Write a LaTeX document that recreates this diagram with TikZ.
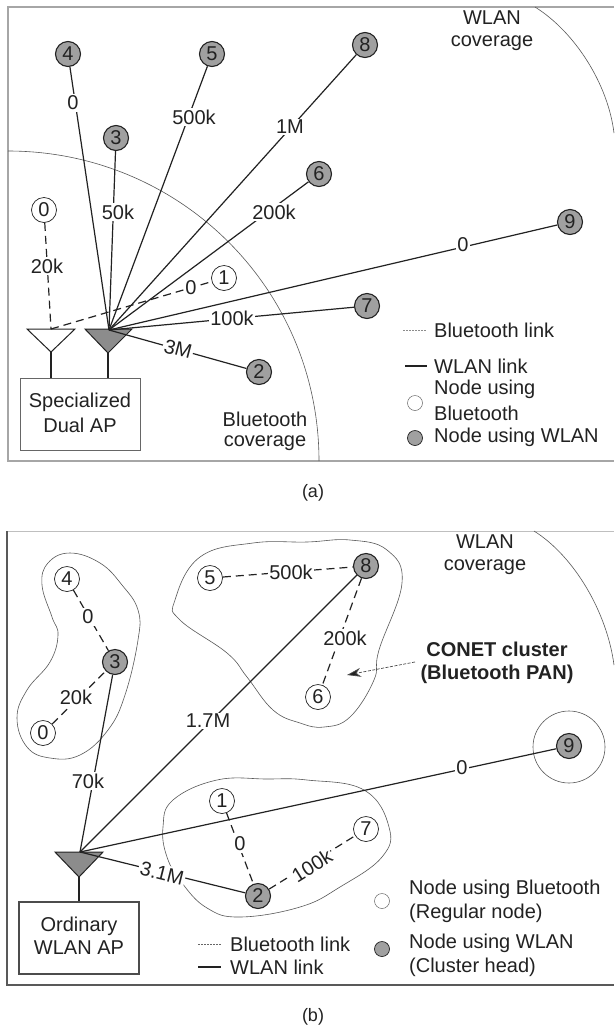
\documentclass[tikz,border=0pt]{standalone}
\usepackage{fontspec}
\setmainfont{Liberation Sans}
\usetikzlibrary{arrows.meta}
\definecolor{ink}{HTML}{222222}
\definecolor{nodegray}{HTML}{A0A0A0}
\definecolor{trigray}{HTML}{8C8C8C}
\tikzset{
  base/.style={font=\fontsize{20}{24}\selectfont,text=ink},
  wnode/.style={circle,draw=ink,line width=.7pt,fill=white,minimum size=25pt,inner sep=0pt,font=\fontsize{20}{22}\selectfont,text=ink},
  gnode/.style={wnode,fill=nodegray,line width=1.1pt},
  wlan/.style={draw=ink,line width=1.2pt},
  blue/.style={draw=ink,line width=1.2pt,dash pattern=on 8pt off 5pt},
  lbl/.style={base,fill=white,inner sep=1.5pt},
  txt/.style={base,inner sep=0pt},
  ltxt/.style={base,inner sep=0pt,anchor=west},
  cover/.style={draw=black!65,line width=.6pt},
  legdash/.style={draw=black!45,line width=.6pt,dash pattern=on 2pt off 1pt},
  legw/.style={wnode,minimum size=15pt,draw=black!60,line width=.5pt},
  legg/.style={wnode,minimum size=15pt,fill=nodegray,line width=.7pt},
  apbox/.style={base,rectangle,draw=black!60,line width=1pt,fill=white,align=center,minimum width=120pt,minimum height=72pt,inner sep=0pt}
}
\begin{document}
\begin{tikzpicture}[x=1pt,y=-1pt]
\useasboundingbox (0,0) rectangle (614,1029);
\fill[white] (0,0) rectangle (614,1029);

% ---------- panel (a)
\draw[draw=black!35,line width=1.2pt] (614,7) -- (8,7) -- (8,461) -- (614,461);
\draw[cover] (8,151) .. controls (180,151) and (319,289) .. (319,461);
\draw[cover] (535,7) .. controls (575,32) and (608,84) .. (614,133);

\coordinate (hubA) at (109,330);
\coordinate (whA) at (51,329);
\coordinate (wApex) at (51,352);
\coordinate (gApex) at (108,353);
\node[apbox] (boxA) at (80,414) {};
\node[txt] (specA) at (80,402) {Specialized};
\node[txt] (dualA) at (80,425) {Dual AP};
\draw[ink,line width=1pt] (27,329) -- (75,329) -- (wApex) -- cycle;
\draw[ink,line width=1pt,fill=trigray] (85,329) -- (132,329) -- (gApex) -- cycle;
\draw[wlan] (wApex) -- (wApex |- boxA.north);
\draw[wlan] (gApex) -- (gApex |- boxA.north);

\node[gnode] (a4) at (68,54) {4};
\node[gnode] (a5) at (212,54) {5};
\node[gnode] (a3) at (116,138) {3};
\node[gnode] (a8) at (365,45) {8};
\node[gnode] (a6) at (319,174) {6};
\node[gnode] (a9) at (570,222) {9};
\node[gnode] (a7) at (367,306) {7};
\node[gnode] (a2) at (259,372) {2};
\node[wnode] (a1) at (224,278) {1};
\node[wnode] (a0) at (44,210) {0};

\draw[blue] (a0) -- (whA);
\draw[blue] (whA) -- (a1);
\foreach \n in {4,5,3,8,6,9,7,2} \draw[wlan] (hubA) -- (a\n);

\node[lbl] (la4) at (73,103) {0};
\node[lbl] (la5) at (194,117) {500k};
\node[lbl] (la3) at (118,212) {50k};
\node[lbl] (la8) at (290,127) {1M};
\node[lbl] (la6) at (274,212) {200k};
\node[lbl] (la0) at (47,266) {20k};
\node[lbl] (la1) at (191,288) {0};
\node[lbl] (la7) at (232,318) {100k};
\node[lbl,rotate=-15] (la2) at (178,349) {3M};
\node[lbl] (la9) at (463,245) {0};

\node[txt] (btA1) at (265,419) {Bluetooth};
\node[txt] (btA2) at (265,443) {coverage};
\node[txt] (wcA1) at (492,18) {WLAN};
\node[txt] (wcA2) at (492,43) {coverage};

\coordinate (ldA1) at (403,330); \coordinate (ldA2) at (426,330);
\coordinate (lwA1) at (405,366); \coordinate (lwA2) at (427,366);
\draw[legdash] (ldA1) -- (ldA2);
\draw[wlan] (lwA1) -- (lwA2);
\node[ltxt] (tA1) at (434,330) {Bluetooth link};
\node[ltxt] (tA2) at (434,366) {WLAN link};
\node[ltxt] (tA3) at (434,389) {Node using};
\node[ltxt] (tA4) at (434,413) {Bluetooth};
\node[ltxt] (tA5) at (434,437) {Node using WLAN};
\node[legw] (lgA1) at (415,403) {};
\node[legg] (lgA2) at (415,438) {};
\node[txt,font=\fontsize{18}{20}\selectfont] (capA) at (313,493) {(a)};

% ---------- panel (b)
\draw[draw=black!25,line width=1pt] (7,531) -- (614,531);
\draw[draw=black!65,line width=1.2pt] (7,531) -- (7,985) -- (614,985);
\draw[cover] (534,531) .. controls (574,556) and (607,612) .. (614,665);

\draw[cover] plot[smooth cycle,tension=.7] coordinates {(70,553) (48,563) (42,585) (52,617) (58,635) (50,662) (27,690) (17,718) (27,747) (50,758) (80,755) (108,730) (125,695) (138,640) (138,610) (122,585) (100,563)};
\draw[cover] plot[smooth cycle,tension=.7] coordinates {(175,600) (200,557) (253,543) (307,542) (350,540) (387,550) (402,583) (379,650) (374,680) (350,717) (324,727) (300,723) (273,710) (247,677) (227,653) (180,620)};
\draw[cover] plot[smooth cycle,tension=.7] coordinates {(163,827) (173,800) (217,780) (267,779) (307,780) (364,790) (389,827) (382,857) (340,887) (300,907) (240,917) (207,908) (182,883) (167,857)};
\node[circle,cover,minimum size=72pt,inner sep=0pt] (ring9) at (569,747) {};

\coordinate (hubB) at (80,852);
\coordinate (gApexB) at (79,877);
\node[apbox,draw=black!70,line width=1.3pt] (boxB) at (79,938) {};
\node[txt] (ordB) at (79,926) {Ordinary};
\node[txt] (wlanB) at (79,948) {WLAN AP};
\draw[ink,line width=1pt,fill=trigray] (55,852) -- (103,852) -- (gApexB) -- cycle;
\draw[wlan] (gApexB) -- (gApexB |- boxB.north);

\node[wnode] (b4) at (67,579) {4};
\node[gnode] (b3) at (115,662) {3};
\node[wnode] (b0) at (43,733) {0};
\node[wnode] (b5) at (210,578) {5};
\node[gnode] (b8) at (366,566) {8};
\node[wnode] (b6) at (318,697) {6};
\node[gnode] (b9) at (569,746) {9};
\node[wnode] (b1) at (222,801) {1};
\node[gnode] (b2) at (258,896) {2};
\node[wnode] (b7) at (366,829) {7};

\draw[blue] (b4) -- (b3);
\draw[blue] (b0) -- (b3);
\draw[blue] (b5) -- (b8);
\draw[blue] (b8) -- (b6);
\draw[blue] (b1) -- (b2);
\draw[blue] (b2) -- (b7);
\foreach \n in {3,8,9,2} \draw[wlan] (hubB) -- (b\n);

\node[lbl] (lb4) at (88,617) {0};
\node[lbl] (lb0) at (76,697) {20k};
\node[lbl] (lb5) at (291,572) {500k};
\node[lbl] (lb6) at (345,638) {200k};
\node[lbl] (lb8) at (208,721) {1.7M};
\node[lbl] (lb3) at (88,781) {70k};
\node[lbl] (lb9) at (462,768) {0};
\node[lbl] (lb1) at (240,844) {0};
\node[lbl,rotate=-14] (lb2) at (162,873) {3.1M};
\node[lbl,rotate=32] (lb7) at (312,866) {100k};

\node[txt] (wcB1) at (485,542) {WLAN};
\node[txt] (wcB2) at (485,567) {coverage};
\node[txt,font=\fontsize{20}{24}\bfseries\selectfont] (conet1) at (497,649) {CONET cluster};
\node[txt,font=\fontsize{20}{24}\bfseries\selectfont] (conet2) at (497,674) {(Bluetooth PAN)};
\coordinate (arrS) at (415,662);
\coordinate (arrE) at (347,675);
\draw[draw=black!70,line width=.7pt,dash pattern=on 3pt off 1.5pt,-{Stealth[length=14pt,width=9pt,fill=ink]}] (arrS) -- (arrE);

\coordinate (ldB1) at (198,944); \coordinate (ldB2) at (221,944);
\coordinate (lwB1) at (198,967); \coordinate (lwB2) at (221,967);
\draw[legdash,draw=black!60] (ldB1) -- (ldB2);
\draw[wlan] (lwB1) -- (lwB2);
\node[ltxt] (tB1) at (230,944) {Bluetooth link};
\node[ltxt] (tB2) at (230,967) {WLAN link};
\node[legw] (lgB1) at (382,901) {};
\node[legg] (lgB2) at (382,949) {};
\node[ltxt] (tB3) at (409,889) {Node using Bluetooth};
\node[ltxt] (tB4) at (409,913) {(Regular node)};
\node[ltxt] (tB5) at (409,943) {Node using WLAN};
\node[ltxt] (tB6) at (409,967) {(Cluster head)};
\node[txt,font=\fontsize{18}{20}\selectfont] (capB) at (313,1017) {(b)};
\end{tikzpicture}
\end{document}
